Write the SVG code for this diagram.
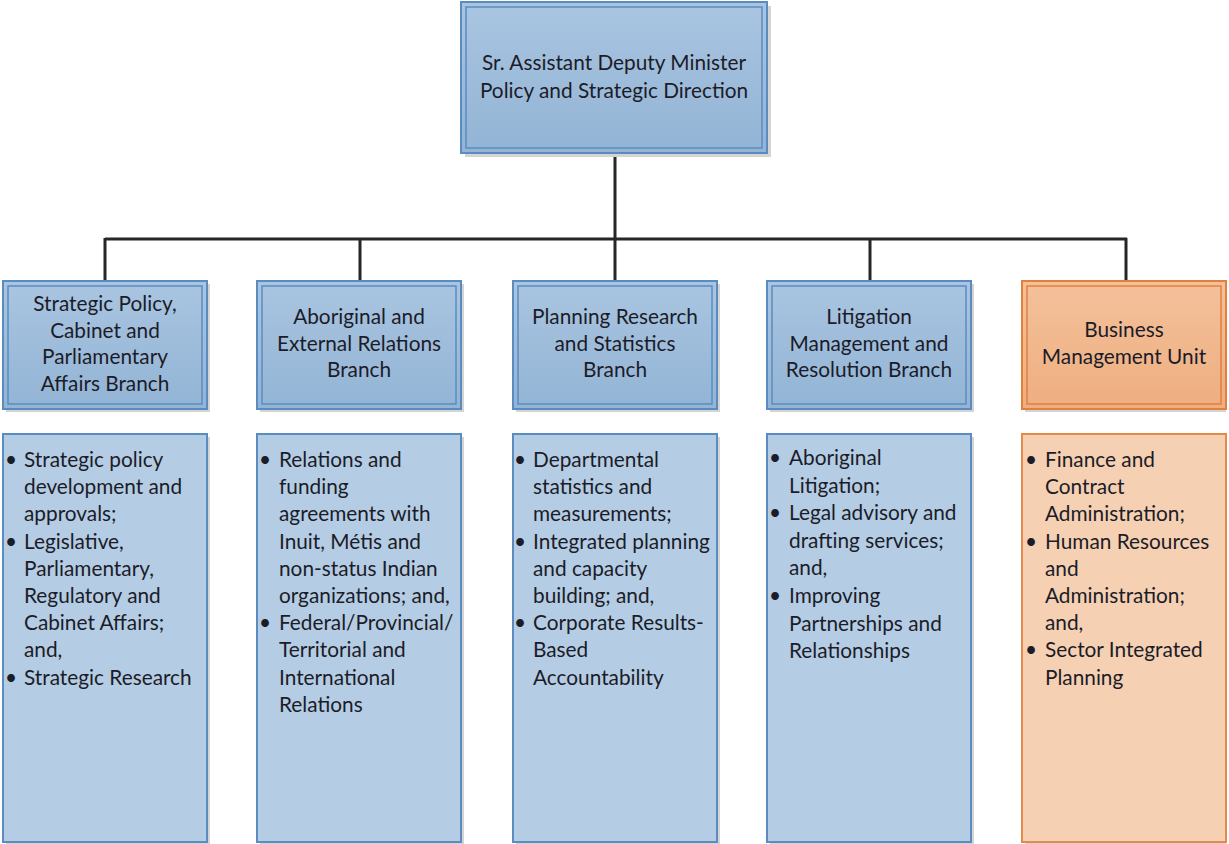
<svg xmlns="http://www.w3.org/2000/svg" width="1229" height="844" viewBox="0 0 1229 844">
<defs>
<linearGradient id="gb" x1="0" y1="0" x2="0" y2="1"><stop offset="0" stop-color="#a9c5e1"/><stop offset="1" stop-color="#93b4d5"/></linearGradient>
<linearGradient id="go" x1="0" y1="0" x2="0" y2="1"><stop offset="0" stop-color="#f4c19b"/><stop offset="1" stop-color="#eeae80"/></linearGradient>
<style>
.sh{fill:#d4d4d4}
.bo{fill:url(#gb);stroke:#5b8cc0;stroke-width:2}
.bi{fill:none;stroke:#5b8cc0;stroke-width:1.5}
.oo{fill:url(#go);stroke:#e0803f;stroke-width:2}
.oi{fill:none;stroke:#e0803f;stroke-width:1.5}
.lb{fill:#b4cde4;stroke:#5b8cc0;stroke-width:2}
.lo{fill:#f5d0b2;stroke:#e38a49;stroke-width:2}
text{font-family:Lato,"Open Sans","Liberation Sans",sans-serif;font-size:20.8px;fill:#1c1c28}
.c{text-anchor:middle}
.con{fill:none;stroke:#262626;stroke-width:3}
</style>
</defs>
<rect width="1229" height="844" fill="#fff"/>
<g id="connectors">
<path class="con" d="M615 153V239M105 239H1127M105 238V281M360 238V281M615 238V281M870 238V281M1126 238V281"/>
</g>
<g id="top">
<rect class="sh" x="465" y="6" width="306" height="151"/>
<rect class="bo" x="461" y="2" width="306" height="151"/>
<rect class="bi" x="466" y="7" width="296" height="141"/>
<text class="c" x="614" y="70">Sr. Assistant Deputy Minister</text>
<text class="c" x="614" y="98">Policy and Strategic Direction</text>
</g>
<g id="b1">
<rect class="sh" x="6" y="284" width="204" height="128"/>
<rect class="bo" x="3" y="281" width="204" height="128"/>
<rect class="bi" x="8" y="286" width="194" height="118"/>
<text class="c" x="105" y="311">Strategic Policy,<tspan x="105" dy="26.7">Cabinet and</tspan><tspan x="105" dy="26.7">Parliamentary</tspan><tspan x="105" dy="26.7">Affairs Branch</tspan></text>
</g>
<g id="b2">
<rect class="sh" x="260" y="284" width="204" height="128"/>
<rect class="bo" x="257" y="281" width="204" height="128"/>
<rect class="bi" x="262" y="286" width="194" height="118"/>
<text class="c" x="359" y="324">Aboriginal and<tspan x="359" dy="26.7">External Relations</tspan><tspan x="359" dy="26.7">Branch</tspan></text>
</g>
<g id="b3">
<rect class="sh" x="516" y="284" width="204" height="128"/>
<rect class="bo" x="513" y="281" width="204" height="128"/>
<rect class="bi" x="518" y="286" width="194" height="118"/>
<text class="c" x="615" y="324">Planning Research<tspan x="615" dy="26.7">and Statistics</tspan><tspan x="615" dy="26.7">Branch</tspan></text>
</g>
<g id="b4">
<rect class="sh" x="770" y="284" width="204" height="128"/>
<rect class="bo" x="767" y="281" width="204" height="128"/>
<rect class="bi" x="772" y="286" width="194" height="118"/>
<text class="c" x="869" y="324">Litigation<tspan x="869" dy="26.7">Management and</tspan><tspan x="869" dy="26.7">Resolution Branch</tspan></text>
</g>
<g id="b5">
<rect class="sh" x="1025" y="284" width="201" height="128"/>
<rect class="oo" x="1022" y="281" width="204" height="128"/>
<rect class="oi" x="1027" y="286" width="194" height="118"/>
<text class="c" x="1124" y="337">Business<tspan x="1124" dy="26.7">Management Unit</tspan></text>
</g>
<g id="d1">
<rect class="sh" x="6" y="437" width="204" height="407"/>
<rect class="lb" x="3" y="434" width="204" height="408"/>
<text x="24" y="467">Strategic policy<tspan x="24" dy="27.2">development and</tspan><tspan x="24" dy="27.2">approvals;</tspan><tspan x="24" dy="27.2">Legislative,</tspan><tspan x="24" dy="27.2">Parliamentary,</tspan><tspan x="24" dy="27.2">Regulatory and</tspan><tspan x="24" dy="27.2">Cabinet Affairs;</tspan><tspan x="24" dy="27.2">and,</tspan><tspan x="24" dy="27.2">Strategic Research</tspan></text>
<text x="5" y="467">•<tspan x="5" dy="81.6">•</tspan><tspan x="5" dy="136">•</tspan></text>
</g>
<g id="d2">
<rect class="sh" x="260" y="437" width="204" height="407"/>
<rect class="lb" x="257" y="434" width="204" height="408"/>
<text x="279" y="467">Relations and<tspan x="279" dy="27.2">funding</tspan><tspan x="279" dy="27.2">agreements with</tspan><tspan x="279" dy="27.2">Inuit, Métis and</tspan><tspan x="279" dy="27.2">non-status Indian</tspan><tspan x="279" dy="27.2">organizations; and,</tspan><tspan x="279" dy="27.2">Federal/Provincial/</tspan><tspan x="279" dy="27.2">Territorial and</tspan><tspan x="279" dy="27.2">International</tspan><tspan x="279" dy="27.2">Relations</tspan></text>
<text x="259" y="467">•<tspan x="259" dy="163.2">•</tspan></text>
</g>
<g id="d3">
<rect class="sh" x="516" y="437" width="204" height="407"/>
<rect class="lb" x="513" y="434" width="204" height="408"/>
<text x="533" y="467">Departmental<tspan x="533" dy="27.2">statistics and</tspan><tspan x="533" dy="27.2">measurements;</tspan><tspan x="533" dy="27.2">Integrated planning</tspan><tspan x="533" dy="27.2">and capacity</tspan><tspan x="533" dy="27.2">building; and,</tspan><tspan x="533" dy="27.2">Corporate Results-</tspan><tspan x="533" dy="27.2">Based</tspan><tspan x="533" dy="27.2">Accountability</tspan></text>
<text x="514" y="467">•<tspan x="514" dy="81.6">•</tspan><tspan x="514" dy="81.6">•</tspan></text>
</g>
<g id="d4">
<rect class="sh" x="770" y="437" width="204" height="407"/>
<rect class="lb" x="767" y="434" width="204" height="408"/>
<text x="789" y="465">Aboriginal<tspan x="789" dy="27.6">Litigation;</tspan><tspan x="789" dy="27.6">Legal advisory and</tspan><tspan x="789" dy="27.6">drafting services;</tspan><tspan x="789" dy="27.6">and,</tspan><tspan x="789" dy="27.6">Improving</tspan><tspan x="789" dy="27.6">Partnerships and</tspan><tspan x="789" dy="27.6">Relationships</tspan></text>
<text x="769" y="465">•<tspan x="769" dy="55.2">•</tspan><tspan x="769" dy="82.8">•</tspan></text>
</g>
<g id="d5">
<rect class="sh" x="1025" y="437" width="201" height="407"/>
<rect class="lo" x="1022" y="434" width="204" height="408"/>
<text x="1045" y="467">Finance and<tspan x="1045" dy="27.2">Contract</tspan><tspan x="1045" dy="27.2">Administration;</tspan><tspan x="1045" dy="27.2">Human Resources</tspan><tspan x="1045" dy="27.2">and</tspan><tspan x="1045" dy="27.2">Administration;</tspan><tspan x="1045" dy="27.2">and,</tspan><tspan x="1045" dy="27.2">Sector Integrated</tspan><tspan x="1045" dy="27.2">Planning</tspan></text>
<text x="1025" y="467">•<tspan x="1025" dy="81.6">•</tspan><tspan x="1025" dy="108.8">•</tspan></text>
</g>
</svg>
